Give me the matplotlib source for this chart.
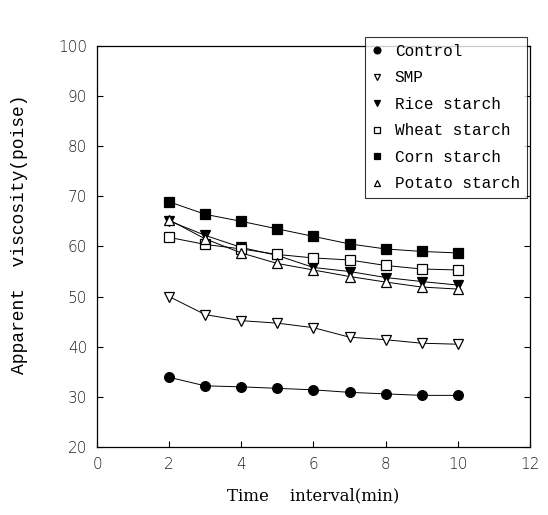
import matplotlib
matplotlib.use("Agg")
import matplotlib.pyplot as plt

time = [2, 3, 4, 5, 6, 7, 8, 9, 10]
control = [33.9, 32.2, 32.0, 31.7, 31.4, 30.9, 30.6, 30.3, 30.3]
smp = [50.0, 46.4, 45.2, 44.7, 43.8, 41.9, 41.4, 40.7, 40.5]
rice = [65.1, 62.2, 59.8, 58.2, 55.8, 55.0, 53.8, 53.0, 52.3]
wheat = [61.8, 60.4, 59.5, 58.4, 57.7, 57.3, 56.2, 55.5, 55.3]
corn = [68.9, 66.4, 65.0, 63.5, 62.0, 60.5, 59.5, 59.0, 58.7]
potato = [65.3, 61.5, 58.7, 56.6, 55.3, 54.0, 52.9, 51.9, 51.5]

series = [
    ("Control", control, "o", "black"),
    ("SMP", smp, "v", "white"),
    ("Rice starch", rice, "v", "black"),
    ("Wheat starch", wheat, "s", "white"),
    ("Corn starch", corn, "s", "black"),
    ("Potato starch", potato, "^", "white"),
]

fig = plt.figure(figsize=(5.48, 5.15), dpi=100)
ax = fig.add_axes([0.177, 0.132, 0.790, 0.779])

for name, vals, mk, fc in series:
    ms = 7 if mk == "o" else 6.5
    ax.plot(time, vals, marker=mk, markersize=ms, markerfacecolor=fc,
            markeredgecolor="black", markeredgewidth=0.9, color="black",
            linewidth=0.7, label=name)

ax.set_xlim(0, 12)
ax.set_ylim(20, 100)
ax.set_xticks(range(0, 13, 2))
ax.set_yticks(range(20, 101, 10))
ax.tick_params(direction="in", length=4, width=0.8, right=True, top=False,
               labelsize=11, pad=7)
for lab in ax.get_xticklabels() + ax.get_yticklabels():
    lab.set_fontfamily("DejaVu Sans")
    lab.set_fontweight("light")
    lab.set_color("#222222")
for s in ax.spines.values():
    s.set_linewidth(0.9)

ax.set_xlabel("Time    interval(min)", fontfamily="DejaVu Serif", fontsize=12, labelpad=11)
ax.set_ylabel("Apparent  viscosity(poise)", fontfamily="Liberation Mono", fontsize=13)
ax.yaxis.set_label_coords(-0.16, 0.53)

leg = fig.legend(loc="upper right", bbox_to_anchor=(0.962, 0.929),
                 borderaxespad=0.0,
                 prop={"family": "Liberation Mono", "size": 11.5},
                 frameon=True, fancybox=False, edgecolor="black",
                 handlelength=0.6, handletextpad=0.8, borderpad=0.45,
                 labelspacing=0.72, markerscale=0.7)
leg.get_frame().set_linewidth(0.8)
for h in leg.legend_handles:
    h.set_linestyle("None")

fig.savefig("out.png", dpi=100)
